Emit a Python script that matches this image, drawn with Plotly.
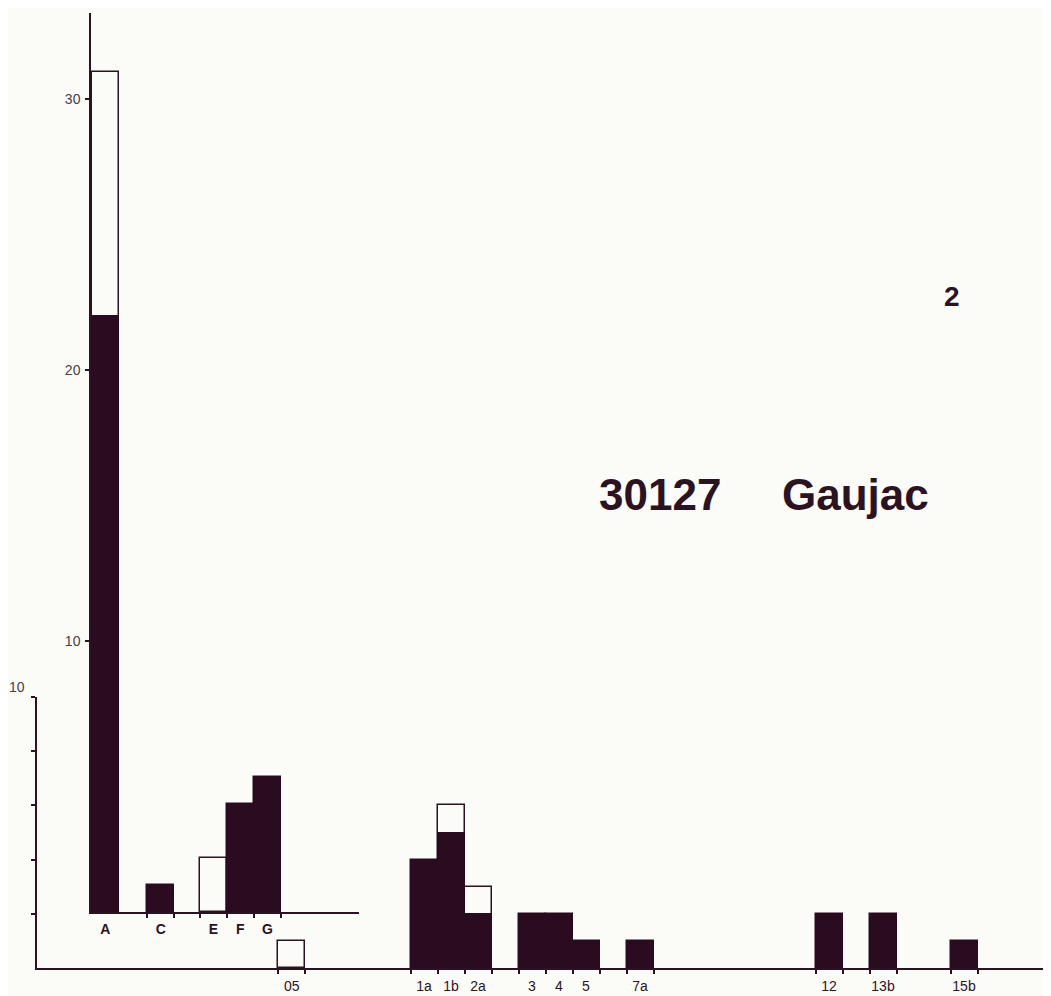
import plotly.graph_objects as go

# ---------------- data ----------------
upper_cats = ["A", "C", "E", "F", "G"]
upper_black = [22, 1, 0, 4, 5]      # filled (dark) part
upper_total = [31, 1, 2, 4, 5]      # total height incl. open (white) part

lower_cats = ["05", "1a", "1b", "2a", "3", "4", "5", "7a", "12", "13b", "15b"]
lower_black = [0, 4, 5, 2, 2, 2, 1, 1, 2, 2, 1]
lower_total = [1, 4, 6, 3, 2, 2, 1, 1, 2, 2, 1]

upper_ticks = [10, 20, 30]
lower_ticks = [2, 4, 6, 8, 10]
lower_tick_label = 10

title_code = "30127"
title_name = "Gaujac"
plate_no = "2"

# ---------------- layout helpers (positions in bar slots) ----------------
upper_pos = [-11.8, -9.75, -7.8, -6.8, -5.8]
lower_pos = [-4.9, 0, 1, 2, 4, 5, 6, 8, 15, 17, 20]

PAGE_W, PAGE_H = 1051, 996
OFF = 8                      # browser body margin
W, H = PAGE_W - OFF, PAGE_H - OFF

# page-pixel geometry of the reference
P_LEFT, P_RIGHT = 37, 1051   # lower axis extent
P_BASE = 968                 # lower baseline
P_TOP = 8                    # top of plotting area (page)
SLOT = 27.0                  # px per bar slot
UNIT = 27.1                  # px per count
ORIGIN = 424.0               # page px of slot 0

ML = P_LEFT - OFF
MR = 0
MT = 0
MB = H - (P_BASE - OFF)
plot_w = P_RIGHT - P_LEFT
plot_h = P_BASE - P_TOP

def s_of(px):
    return (px - ORIGIN) / SLOT

def fx(px):
    return (px - P_LEFT) / plot_w

def fy(py):
    return (P_BASE - py) / plot_h

INK = "#2b1322"
FILL = "#2b0b20"
BG = "#fbfbf8"
FONT = "Liberation Sans"

def nz(v):
    return [x if x else None for x in v]

def edges(pos, skip=()):
    e = set()
    for i, p in enumerate(pos):
        if i in skip:
            continue
        e.add(round(p - 0.5, 3))
        e.add(round(p + 0.5, 3))
    return sorted(e)

fig = go.Figure()

# lower group (x / y)
fig.add_trace(go.Bar(x=lower_pos, y=lower_total, width=1, xaxis="x", yaxis="y",
                     marker=dict(color=BG, line=dict(color=INK, width=1.5)),
                     showlegend=False, hoverinfo="skip"))
fig.add_trace(go.Bar(x=lower_pos, y=nz(lower_black), width=1, xaxis="x", yaxis="y",
                     marker=dict(color=FILL, line=dict(color=FILL, width=1)),
                     showlegend=False, hoverinfo="skip"))
# upper group (x2 / y2)
fig.add_trace(go.Bar(x=upper_pos, y=upper_total, width=1, xaxis="x2", yaxis="y2",
                     marker=dict(color=BG, line=dict(color=INK, width=1.5)),
                     showlegend=False, hoverinfo="skip"))
fig.add_trace(go.Bar(x=upper_pos, y=nz(upper_black), width=1, xaxis="x2", yaxis="y2",
                     marker=dict(color=FILL, line=dict(color=FILL, width=1)),
                     showlegend=False, hoverinfo="skip"))

lbl_font = dict(family=FONT, size=14, color=INK)
num_font = dict(family=FONT, size=14, color="#4a4046")

x2_left_px, x2_right_px = 91, 359
y2_top_px, y2_base_px = 13, 912
y_top_px = 697

fig.update_layout(
    width=W, height=H,
    margin=dict(l=ML, r=MR, t=MT, b=MB, autoexpand=False),
    paper_bgcolor=BG, plot_bgcolor="rgba(0,0,0,0)",
    barmode="overlay", bargap=0,
    xaxis=dict(domain=[0, 1], range=[s_of(P_LEFT), s_of(P_RIGHT)], anchor="y",
               automargin=False,
               showline=True, linecolor=INK, linewidth=1.5, showgrid=False, zeroline=False,
               tickmode="array", tickvals=lower_pos, ticktext=lower_cats,
               ticks="outside", ticklen=0, tickfont=lbl_font, ticklabelstandoff=4,
               minor=dict(tickmode="array", tickvals=edges(lower_pos), ticks="outside",
                          ticklen=4, tickwidth=1.5, tickcolor=INK, showgrid=False)),
    yaxis=dict(domain=[0, fy(y_top_px)], range=[0, (P_BASE - y_top_px) / UNIT], anchor="x",
               automargin=False,
               showline=True, linecolor=INK, linewidth=1.5, showgrid=False, zeroline=False,
               tickmode="array", tickvals=lower_ticks, showticklabels=False,
               ticks="outside", ticklen=4, tickwidth=1.5, tickcolor=INK),
    xaxis2=dict(domain=[fx(x2_left_px), fx(x2_right_px)],
                range=[s_of(x2_left_px), s_of(x2_right_px)], anchor="y2",
                automargin=False,
                showline=True, linecolor=INK, linewidth=1.5, showgrid=False, zeroline=False,
                tickmode="array", tickvals=upper_pos, ticktext=upper_cats,
                ticks="outside", ticklen=0,
                tickfont=dict(family=FONT, size=14, color=INK, weight="bold"),
                ticklabelstandoff=3,
                minor=dict(tickmode="array", tickvals=edges(upper_pos, skip=(0,)), ticks="outside",
                           ticklen=4, tickwidth=1.5, tickcolor=INK, showgrid=False)),
    yaxis2=dict(domain=[fy(y2_base_px), fy(y2_top_px)],
                range=[0, (y2_base_px - y2_top_px) / UNIT], anchor="x2",
                automargin=False,
                showline=True, linecolor=INK, linewidth=1.5, showgrid=False, zeroline=False,
                tickmode="array", tickvals=upper_ticks, ticktext=[str(t) for t in upper_ticks],
                ticks="outside", ticklen=4, tickwidth=1.5, tickcolor=INK,
                tickfont=num_font, ticklabelstandoff=2),
)

# label of the small (lower) scale, placed above-left of its top tick
fig.add_annotation(text=str(lower_tick_label), xref="paper", yref="y",
                   x=0, y=lower_tick_label, xanchor="right", yanchor="bottom",
                   xshift=-10, yshift=0, showarrow=False, font=num_font)

fig.add_annotation(text=plate_no, xref="paper", yref="paper",
                   x=fx(952), y=fy(296), xanchor="center", yanchor="middle",
                   showarrow=False, font=dict(family=FONT, size=28, color=INK, weight="bold"))
fig.add_annotation(text=title_code, xref="paper", yref="paper",
                   x=fx(597), y=fy(494), xanchor="left", yanchor="middle",
                   showarrow=False, font=dict(family=FONT, size=44, color=INK, weight="bold"))
fig.add_annotation(text=title_name, xref="paper", yref="paper",
                   x=fx(780), y=fy(494), xanchor="left", yanchor="middle",
                   showarrow=False, font=dict(family=FONT, size=44, color=INK, weight="bold"))

fig.write_html("out.html")
